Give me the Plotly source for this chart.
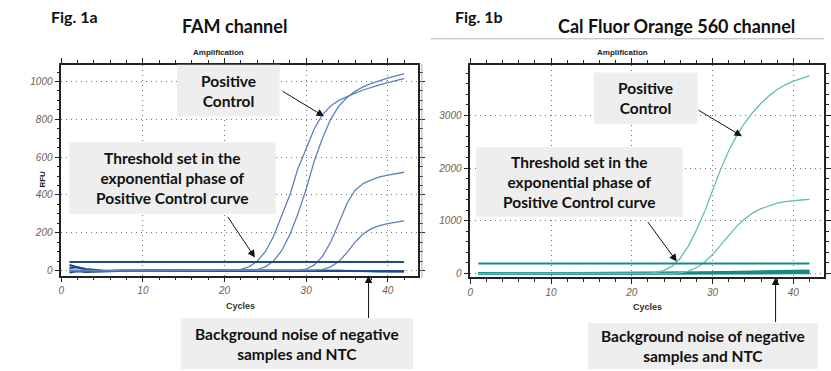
import plotly.graph_objects as go

W, H = 831, 371

cycles = list(range(1, 43))

# ---- Fig 1a: FAM channel (RFU) ----
fam_threshold = 45
fam_pc_a = [2, 1, 0, 0, 0, 0, 1, 0, 0, 0, 0, 0, 0, 0, 0, 1, 1, 1, 1, 2, 3, 6, 20, 50, 100, 180,
            285, 400, 540, 650, 750, 825, 870, 900, 920, 938, 955, 970, 982, 994, 1005, 1015]
fam_pc_b = [-2, -1, 0, 0, 0, 0, 0, 0, 0, 0, 0, 0, 0, 0, 0, 0, 0, 1, 1, 1, 1, 2, 3, 5, 20, 50,
            105, 190, 300, 430, 580, 700, 800, 870, 915, 948, 972, 990, 1005, 1018, 1030, 1040]
fam_s_c = [1, 0, 0, 0, 0, 0, 0, 0, 0, 0, 0, 0, 0, 0, 0, 0, 0, 0, 0, 0, 0, 0, 0, 0, 0, 0,
           1, 1, 2, 8, 30, 75, 150, 250, 355, 425, 460, 480, 495, 505, 513, 520]
fam_s_d = [0, 0, 0, 0, 0, 0, 0, 0, 0, 0, 0, 0, 0, 0, 0, 0, 0, 0, 0, 0, 0, 0, 0, 0, 0, 0,
           0, 0, 1, 1, 2, 5, 20, 48, 95, 150, 195, 222, 238, 248, 256, 263]
fam_n1 = [30, 16, 4, -2, -3, -2, -1, -1, 0, 0, 1, 0, -1, 0, 1, 0, 0, -1, 0, 1, 1, 0, 0, 1, 0, 0,
          0, -1, 0, 1, 2, 1, 0, -1, -2, -2, -3, -3, -4, -4, -4, -4]
fam_n2 = [-10, -4, -7, -5, -3, -2, -2, -1, -1, 0, 0, -1, 0, 0, 0, 1, 0, 0, 0, 0, 0, 0, 0, 0,
          -1, 0, 0, 0, 0, 0, 1, 1, 1, 0, 0, -1, -2, -2, -3, -3, -3, -3]
fam_n3 = [14, 18, 9, 3, 0, -1, 0, 1, 1, 1, 0, 0, 1, 1, 0, 0, 1, 1, 0, 0, 1, 1, 0, 0, 1, 1,
          1, 0, 0, 0, 0, -1, -1, -1, -1, -2, -2, -3, -3, -4, -4, -5]

# ---- Fig 1b: Cal Fluor Orange 560 channel ----
cfo_threshold = 190
cfo_pc_e = [0, 0, 0, 0, 0, 0, 0, 0, 0, 0, 0, 0, 0, 0, 0, 0, 0, 0, 0, 0, 1, 5, 20, 60, 140, 290,
            520, 820, 1170, 1580, 1980, 2330, 2620, 2860, 3060, 3230, 3370, 3490, 3580, 3650, 3705, 3750]
cfo_pc_f = [0, 0, 0, 0, 0, 0, 0, 0, 0, 0, 0, 0, 0, 0, 0, 0, 0, 0, 0, 0, 0, 0, 0, 1, 3, 15,
            45, 110, 215, 360, 540, 730, 900, 1040, 1150, 1230, 1290, 1335, 1365, 1385, 1395, 1405]
cfo_n1 = [0, 0, 0, 0, 0, 0, 0, 0, 0, 0, 1, 1, 1, 2, 2, 3, 3, 4, 4, 5, 6, 7, 8, 9, 10, 12,
          14, 16, 18, 20, 22, 25, 28, 31, 34, 37, 40, 43, 46, 49, 52, 55]
cfo_n2 = [5, 4, 4, 4, 4, 4, 5, 5, 5, 5, 5, 5, 6, 6, 6, 6, 7, 7, 7, 8, 8, 8, 9, 9, 10, 10,
          11, 12, 12, 13, 14, 15, 16, 17, 18, 19, 20, 21, 22, 23, 24, 25]
cfo_n3 = [-5, -5, -4, -4, -4, -3, -3, -3, -2, -2, -2, -2, -1, -1, -1, 0, 0, 0, 0, 1, 1, 1, 2, 2,
          2, 3, 3, 3, 4, 4, 5, 5, 6, 6, 7, 7, 8, 8, 9, 9, 10, 10]

titles = ["Fig. 1a", "FAM channel", "Fig. 1b", "Cal Fluor Orange 560 channel"]


def px(x):
    return x / W


def py(y):
    return 1 - y / H


fig = go.Figure()

blue_dark = "#1d4b8a"
blue_curve = "#5d82ba"
teal_dark = "#168a85"
teal_curve = "#62bcb7"

# left traces
for ys in [fam_n3, fam_n2, fam_n1]:
    fig.add_trace(go.Scatter(x=cycles, y=ys, mode="lines", line=dict(color=blue_dark, width=2),
                             xaxis="x", yaxis="y", showlegend=False, hoverinfo="skip"))
for ys in [fam_pc_a, fam_pc_b, fam_s_c, fam_s_d]:
    fig.add_trace(go.Scatter(x=cycles, y=ys, mode="lines", line=dict(color=blue_curve, width=1.3),
                             xaxis="x", yaxis="y", showlegend=False, hoverinfo="skip"))
fig.add_trace(go.Scatter(x=[cycles[0], cycles[-1]], y=[fam_threshold, fam_threshold], mode="lines",
                         line=dict(color=blue_dark, width=2), xaxis="x", yaxis="y",
                         showlegend=False, hoverinfo="skip"))

# right traces
for ys in [cfo_n3, cfo_n2, cfo_n1]:
    fig.add_trace(go.Scatter(x=cycles, y=ys, mode="lines", line=dict(color=teal_dark, width=2.5),
                             xaxis="x2", yaxis="y2", showlegend=False, hoverinfo="skip"))
for ys in [cfo_pc_e, cfo_pc_f]:
    fig.add_trace(go.Scatter(x=cycles, y=ys, mode="lines", line=dict(color=teal_curve, width=1.3),
                             xaxis="x2", yaxis="y2", showlegend=False, hoverinfo="skip"))
fig.add_trace(go.Scatter(x=[cycles[0], cycles[-1]], y=[cfo_threshold, cfo_threshold], mode="lines",
                         line=dict(color=teal_dark, width=2), xaxis="x2", yaxis="y2",
                         showlegend=False, hoverinfo="skip"))

tickfont = dict(family="Arial", size=10, color="#6e5f4c", style="italic")
common = dict(showline=True, linecolor="#222", linewidth=1.5, mirror="ticks",
              ticks="outside", ticklen=5, tickcolor="#222", tickwidth=1,
              showgrid=True, gridcolor="#777777", griddash="1px,4px", gridwidth=1,
              zeroline=False, tickfont=tickfont, fixedrange=True)

fig.update_layout(
    width=W, height=H, margin=dict(l=0, r=0, t=0, b=0),
    paper_bgcolor="white", plot_bgcolor="white",
    xaxis=dict(domain=[px(59), px(420)], range=[0, 43.7], dtick=10, tick0=0,
               minor=dict(dtick=2, ticklen=3, ticks="outside", tickcolor="#222", showgrid=False),
               anchor="y", **common),
    yaxis=dict(domain=[py(277), py(65)], range=[-26, 1089], dtick=200, tick0=0,
               minor=dict(dtick=50, ticklen=3, ticks="outside", tickcolor="#222", showgrid=False),
               anchor="x", **common),
    xaxis2=dict(domain=[px(473), 1.0], range=[0, 43.8], dtick=10, tick0=0,
                minor=dict(dtick=2, ticklen=3, ticks="outside", tickcolor="#222", showgrid=False),
                anchor="y2", **common),
    yaxis2=dict(domain=[py(279), py(65)], range=[-75, 3962], dtick=1000, tick0=0,
                minor=dict(dtick=200, ticklen=3, ticks="outside", tickcolor="#222", showgrid=False),
                anchor="x2", **common),
)

shapes = []
# separator lines
shapes.append(dict(type="line", xref="paper", yref="paper", x0=px(433), x1=1.0, y0=py(39), y1=py(39),
                   line=dict(color="#b5b5b5", width=1)))
shapes.append(dict(type="line", xref="paper", yref="paper", x0=px(424), x1=px(424), y0=py(64), y1=py(280),
                   line=dict(color="#b0b0b0", width=1)))

boxes = [
    (176, 65, 280, 117, "Positive<br>Control"),
    (67, 143, 276, 215, "Threshold set in the<br>exponential phase of<br>Positive Control curve"),
    (180, 320, 415, 371, "Background noise of negative<br>samples and NTC"),
    (598, 73, 703, 125, "Positive<br>Control"),
    (479, 148, 688, 218, "Threshold set in the<br>exponential phase of<br>Positive Control curve"),
    (592, 325, 825, 371, "Background noise of negative<br>samples and NTC"),
]
annotations = []
boxfont = dict(family="Lato", size=15.5, color="#111", weight="bold")
for x0, y0, x1, y1, txt in boxes:
    shapes.append(dict(type="rect", xref="paper", yref="paper", x0=px(x0), x1=px(x1), y0=py(y1), y1=py(y0),
                       fillcolor="#eeeeee", line=dict(width=0), layer="above"))
    annotations.append(dict(xref="paper", yref="paper", x=px((x0 + x1) / 2), y=py((y0 + y1) / 2),
                            text=txt, showarrow=False, font=boxfont, align="center",
                            xanchor="center", yanchor="middle"))

arrows = [
    ((282, 91), (325, 117)),
    ((227, 217), (255, 259)),
    ((370, 321), (370, 277)),
    ((703, 110), (748, 137)),
    ((652, 222), (682, 263)),
    ((782, 325), (782, 279)),
]
for (tx, ty), (hx, hy) in arrows:
    annotations.append(dict(xref="paper", yref="paper", x=px(hx), y=py(hy), ax=tx - hx, ay=ty - hy,
                            axref="pixel", ayref="pixel", text="", showarrow=True, arrowhead=2,
                            arrowsize=1.5, arrowwidth=1, arrowcolor="#111", standoff=0))

# titles
tfont_fig = dict(family="Lato", size=16, color="#111", weight="bold")
tfont_ch = dict(family="Lato", size=18, color="#111", weight="bold")
annotations.append(dict(xref="paper", yref="paper", x=px(72), y=py(17), text=titles[0], showarrow=False,
                        font=tfont_fig, xanchor="center", yanchor="middle"))
annotations.append(dict(xref="paper", yref="paper", x=px(234), y=py(26), text=titles[1], showarrow=False,
                        font=tfont_ch, xanchor="center", yanchor="middle"))
annotations.append(dict(xref="paper", yref="paper", x=px(482), y=py(17), text=titles[2], showarrow=False,
                        font=tfont_fig, xanchor="center", yanchor="middle"))
annotations.append(dict(xref="paper", yref="paper", x=px(682), y=py(26), text=titles[3], showarrow=False,
                        font=tfont_ch, xanchor="center", yanchor="middle"))

small = dict(family="Arial", size=8, color="#222", weight="bold")
annotations.append(dict(xref="paper", yref="paper", x=px(218), y=py(53), text="Amplification", showarrow=False,
                        font=small, xanchor="center", yanchor="middle"))
annotations.append(dict(xref="paper", yref="paper", x=px(627), y=py(53), text="Amplification", showarrow=False,
                        font=small, xanchor="center", yanchor="middle"))
lab = dict(family="Arial", size=9, color="#333", weight="bold")
annotations.append(dict(xref="paper", yref="paper", x=px(240), y=py(308), text="Cycles", showarrow=False,
                        font=lab, xanchor="center", yanchor="middle"))
annotations.append(dict(xref="paper", yref="paper", x=px(652), y=py(309), text="Cycles", showarrow=False,
                        font=lab, xanchor="center", yanchor="middle"))
annotations.append(dict(xref="paper", yref="paper", x=px(40), y=py(180), text="RFU", showarrow=False,
                        font=dict(family="Arial", size=8, color="#222", weight="bold"), textangle=-90,
                        xanchor="center", yanchor="middle"))

fig.update_layout(shapes=shapes, annotations=annotations)

fig.write_html("out.html")
